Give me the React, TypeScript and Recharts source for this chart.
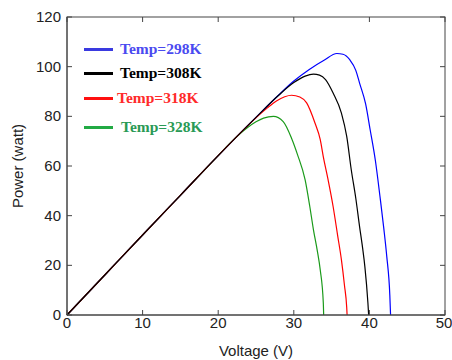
import React from 'react';
import { LineChart, Line, XAxis, YAxis } from 'recharts';

const xTicks = [0, 10, 20, 30, 40, 50];
const yTicks = [0, 20, 40, 60, 80, 100, 120];

const v298 = [0, 5, 10, 15, 20, 25, 28, 30, 32, 34, 35.7, 36.5, 37.4, 38.2, 38.7, 39.5, 40.1, 40.8, 41.4, 41.9, 42.3, 42.7, 42.8];
const p298 = [0, 16.1, 32.2, 48.2, 64.2, 79.6, 88.6, 94.2, 98.8, 102.6, 105.3, 105, 102.8, 98.5, 93.4, 85, 74.6, 62, 47.7, 35, 23.5, 8, 0];

const v308 = [0, 5, 10, 15, 20, 25, 28, 30, 31.5, 32.6, 33.4, 34.2, 35.2, 36.3, 37.0, 37.6, 38.2, 38.7, 39.1, 39.4, 39.8, 39.9];
const p308 = [0, 16.1, 32.2, 48.2, 64.2, 79.6, 88.5, 93.6, 96.2, 97, 96.6, 94.8, 89.4, 81.3, 71.9, 58.5, 47, 35.6, 27, 19.5, 5, 0];

const v318 = [0, 5, 10, 15, 20, 25, 26.5, 27.7, 28.8, 29.7, 30.8, 31.7, 32.8, 33.5, 33.9, 34.5, 35.2, 35.8, 36.3, 36.7, 37.0, 37.05];
const p318 = [0, 16.1, 32.2, 48.2, 64.2, 79.4, 83.4, 86.2, 87.9, 88.5, 87.8, 85.4, 77.3, 70.6, 63.8, 55, 43.7, 32, 22.2, 12, 3, 0];

const v328 = [0, 5, 10, 15, 20, 22, 23.8, 25, 26, 27.3, 28.6, 29.7, 30.5, 31.5, 32.1, 32.6, 33.1, 33.5, 33.9, 33.95];
const p328 = [0, 16.1, 32.2, 48.2, 64.2, 70.5, 75.3, 77.8, 79.3, 80, 77.9, 71.2, 64.5, 54.4, 44, 34.3, 26, 18.1, 5, 0];

const toRows = (v: number[], p: number[]) => v.map((x, i) => ({ v: x, p: p[i] }));

const series = [
  { name: 'Temp=298K', data: toRows(v298, p298), color: '#0000ff', legendLine: '#3a3ae0', legendText: '#4a4af0' },
  { name: 'Temp=308K', data: toRows(v308, p308), color: '#000000', legendLine: '#000000', legendText: '#000000' },
  { name: 'Temp=318K', data: toRows(v318, p318), color: '#ff0000', legendLine: '#ff1010', legendText: '#ff2a2a' },
  { name: 'Temp=328K', data: toRows(v328, p328), color: '#1a9a1a', legendLine: '#22aa44', legendText: '#2a9a55' },
];

const drawOrder = [0, 3, 2, 1];
const legendTops = [0, 24, 49, 78];
const legendTextOffsets = [36, 36, 33, 37];

const W = 452;
const H = 360;
const M = { top: 17, right: 7, left: 0, bottom: 0 };
const Y_AXIS_W = 67;
const X_AXIS_H = 45;
const X_DOMAIN = [0, 50];
const Y_DOMAIN = [0, 120];
const PLOT = { left: M.left + Y_AXIS_W, top: M.top, right: W - M.right, bottom: H - M.bottom - X_AXIS_H };

const axisColor = '#444';
const TICK_LEN = 5;
const fontSans = 'Liberation Sans, Arial, sans-serif';

function BottomTick(props: any) {
  const { x, y, payload } = props;
  return (
    <text x={x} y={y} dy={5} textAnchor="middle" fontFamily={fontSans} fontSize={15} fill="#222">
      {payload.value}
    </text>
  );
}

function LeftTick(props: any) {
  const { x, y, payload } = props;
  return (
    <text x={x + 2} y={y} dy={5} textAnchor="end" fontFamily={fontSans} fontSize={15} fill="#222">
      {payload.value}
    </text>
  );
}

// Frame and inward tick marks (MATLAB-style box), aligned with the chart's plot area.
function Frame() {
  const pw = PLOT.right - PLOT.left;
  const ph = PLOT.bottom - PLOT.top;
  const sx = (t: number) => PLOT.left + ((t - X_DOMAIN[0]) / (X_DOMAIN[1] - X_DOMAIN[0])) * pw;
  const sy = (t: number) => PLOT.bottom - ((t - Y_DOMAIN[0]) / (Y_DOMAIN[1] - Y_DOMAIN[0])) * ph;
  return (
    <svg width={W} height={H} style={{ position: 'absolute', left: 0, top: 0, pointerEvents: 'none' }}>
      <rect x={PLOT.left} y={PLOT.top} width={pw} height={ph} fill="none" stroke={axisColor} strokeWidth={1} />
      {xTicks.map((t) => (
        <g key={'x' + t}>
          <line x1={sx(t)} x2={sx(t)} y1={PLOT.bottom} y2={PLOT.bottom - TICK_LEN} stroke={axisColor} />
          <line x1={sx(t)} x2={sx(t)} y1={PLOT.top} y2={PLOT.top + TICK_LEN} stroke={axisColor} />
        </g>
      ))}
      {yTicks.map((t) => (
        <g key={'y' + t}>
          <line x1={PLOT.left} x2={PLOT.left + TICK_LEN} y1={sy(t)} y2={sy(t)} stroke={axisColor} />
          <line x1={PLOT.right} x2={PLOT.right - TICK_LEN} y1={sy(t)} y2={sy(t)} stroke={axisColor} />
        </g>
      ))}
    </svg>
  );
}

function LegendBox() {
  return (
    <div style={{ position: 'absolute', left: 84, top: 40, width: 140, height: 100, pointerEvents: 'none' }}>
      {series.map((s, i) => (
        <div key={s.name} style={{ position: 'absolute', left: 0, top: legendTops[i], height: 20, width: 140 }}>
          <div style={{ position: 'absolute', left: 0, top: 8, width: 29, height: 3, background: s.legendLine }} />
          <div
            style={{
              position: 'absolute',
              left: legendTextOffsets[i],
              top: 0,
              fontFamily: '"Liberation Serif", "Times New Roman", serif',
              fontWeight: 'bold',
              fontSize: 15.5,
              lineHeight: '18px',
              color: s.legendText,
              whiteSpace: 'nowrap',
            }}
          >
            {s.name}
          </div>
        </div>
      ))}
    </div>
  );
}

export default function App() {
  return (
    <div style={{ position: 'absolute', left: 0, top: 0, width: W, height: H, background: '#fff' }}>
      <LineChart width={W} height={H} margin={M}>
        <XAxis
          type="number"
          dataKey="v"
          domain={X_DOMAIN}
          ticks={xTicks}
          height={X_AXIS_H}
          stroke={axisColor}
          tickLine={false}
          tick={<BottomTick />}
          label={{ value: 'Voltage (V)', position: 'insideBottom', offset: 4, style: { fontFamily: fontSans, fontSize: 15, fill: '#222' } }}
        />
        <YAxis
          type="number"
          domain={Y_DOMAIN}
          ticks={yTicks}
          width={Y_AXIS_W}
          stroke={axisColor}
          tickLine={false}
          tick={<LeftTick />}
          label={{ value: 'Power (watt)', angle: -90, position: 'insideLeft', offset: 18, style: { textAnchor: 'middle', fontFamily: fontSans, fontSize: 15, fill: '#222' } }}
        />
        {drawOrder.map((i) => {
          const s = series[i];
          return (
            <Line
              key={s.name}
              data={s.data}
              dataKey="p"
              name={s.name}
              type="monotone"
              stroke={s.color}
              strokeWidth={1.2}
              dot={false}
              activeDot={false}
              isAnimationActive={false}
            />
          );
        })}
      </LineChart>
      <Frame />
      <LegendBox />
    </div>
  );
}
